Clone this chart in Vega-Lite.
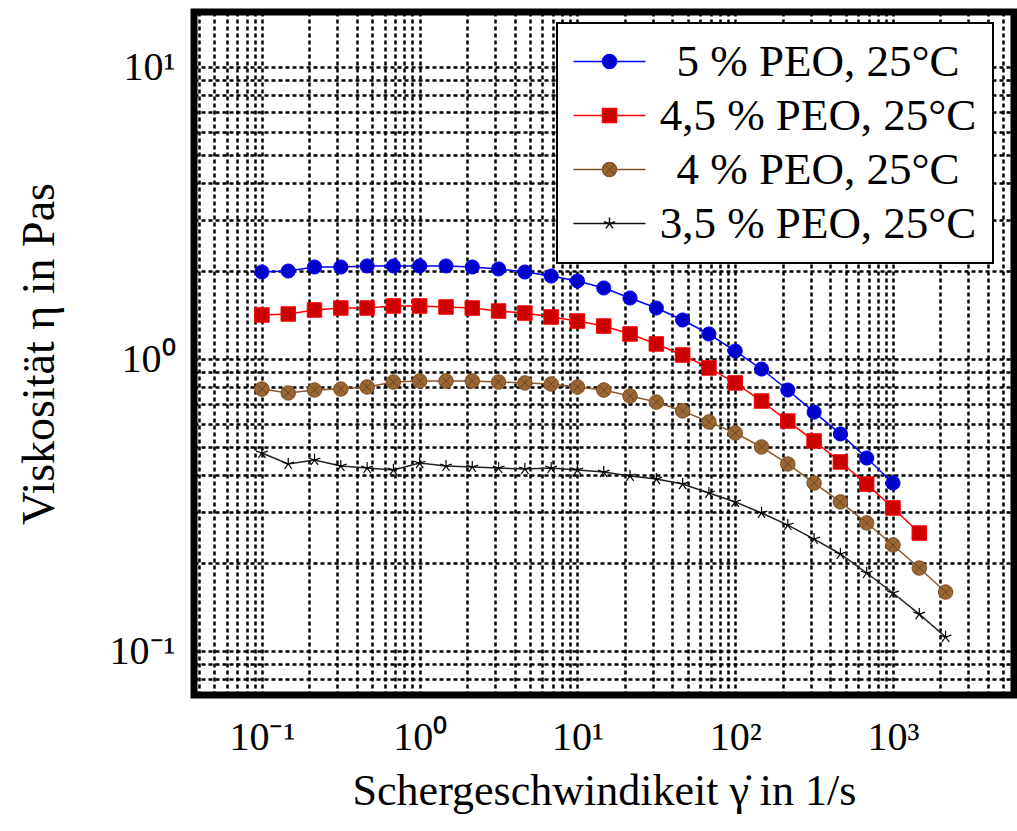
{
  "$schema": "https://vega.github.io/schema/vega-lite/v6.json",
  "width": 820,
  "height": 683,
  "autosize": {"type": "none"},
  "padding": {"left": 194, "top": 12, "right": 3, "bottom": 136},
  "background": "white",
  "config": {
    "view": {"stroke": "black", "strokeWidth": 7},
    "font": "Liberation Serif",
    "axis": {
      "domain": false, "ticks": false, "tickSize": 0,
      "gridColor": "black", "gridDash": [4, 3], "gridWidth": 2.5, "gridOpacity": 1,
      "labelColor": "black", "titleColor": "black",
      "labelFont": "Liberation Serif", "titleFont": "Liberation Serif",
      "titleFontWeight": "normal", "labelOverlap": false, "labelBound": false, "labelFlush": false
    },
    "legend": {
      "orient": "none", "legendX": 363, "legendY": 11, "title": null,
      "padding": 16, "strokeColor": "black", "strokeWidth": 2, "fillColor": "white",
      "labelFont": "Liberation Serif", "labelFontSize": 45, "labelColor": "black", "labelLimit": 500,
      "labelAlign": "center", "labelOffset": 186, "labelBaseline": "middle",
      "symbolSize": 1600, "symbolStrokeWidth": 1.5, "symbolOffset": 14, "rowPadding": 8
    }
  },
  "datasets": {
    "d": [
      {"s":"5 % PEO, 25°C","x":0.1,"y":1.986},{"s":"5 % PEO, 25°C","x":0.1468,"y":2.001},{"s":"5 % PEO, 25°C","x":0.2154,"y":2.066},{"s":"5 % PEO, 25°C","x":0.3162,"y":2.066},{"s":"5 % PEO, 25°C","x":0.4642,"y":2.083},{"s":"5 % PEO, 25°C","x":0.6813,"y":2.083},{"s":"5 % PEO, 25°C","x":1,"y":2.083},{"s":"5 % PEO, 25°C","x":1.468,"y":2.083},{"s":"5 % PEO, 25°C","x":2.154,"y":2.066},{"s":"5 % PEO, 25°C","x":3.162,"y":2.034},{"s":"5 % PEO, 25°C","x":4.642,"y":1.986},{"s":"5 % PEO, 25°C","x":6.813,"y":1.924},{"s":"5 % PEO, 25°C","x":10,"y":1.85},{"s":"5 % PEO, 25°C","x":14.68,"y":1.751},{"s":"5 % PEO, 25°C","x":21.54,"y":1.618},{"s":"5 % PEO, 25°C","x":31.62,"y":1.495},{"s":"5 % PEO, 25°C","x":46.42,"y":1.36},{"s":"5 % PEO, 25°C","x":68.13,"y":1.218},{"s":"5 % PEO, 25°C","x":100,"y":1.065},{"s":"5 % PEO, 25°C","x":146.8,"y":0.924},{"s":"5 % PEO, 25°C","x":215.4,"y":0.783},{"s":"5 % PEO, 25°C","x":316.2,"y":0.658},{"s":"5 % PEO, 25°C","x":464.2,"y":0.554},{"s":"5 % PEO, 25°C","x":681.3,"y":0.458},{"s":"5 % PEO, 25°C","x":1000,"y":0.376},
      {"s":"4,5 % PEO, 25°C","x":0.1,"y":1.415},{"s":"4,5 % PEO, 25°C","x":0.1468,"y":1.426},{"s":"4,5 % PEO, 25°C","x":0.2154,"y":1.472},{"s":"4,5 % PEO, 25°C","x":0.3162,"y":1.495},{"s":"4,5 % PEO, 25°C","x":0.4642,"y":1.495},{"s":"4,5 % PEO, 25°C","x":0.6813,"y":1.519},{"s":"4,5 % PEO, 25°C","x":1,"y":1.519},{"s":"4,5 % PEO, 25°C","x":1.468,"y":1.507},{"s":"4,5 % PEO, 25°C","x":2.154,"y":1.495},{"s":"4,5 % PEO, 25°C","x":3.162,"y":1.46},{"s":"4,5 % PEO, 25°C","x":4.642,"y":1.437},{"s":"4,5 % PEO, 25°C","x":6.813,"y":1.393},{"s":"4,5 % PEO, 25°C","x":10,"y":1.349},{"s":"4,5 % PEO, 25°C","x":14.68,"y":1.297},{"s":"4,5 % PEO, 25°C","x":21.54,"y":1.218},{"s":"4,5 % PEO, 25°C","x":31.62,"y":1.126},{"s":"4,5 % PEO, 25°C","x":46.42,"y":1.032},{"s":"4,5 % PEO, 25°C","x":68.13,"y":0.932},{"s":"4,5 % PEO, 25°C","x":100,"y":0.828},{"s":"4,5 % PEO, 25°C","x":146.8,"y":0.718},{"s":"4,5 % PEO, 25°C","x":215.4,"y":0.613},{"s":"4,5 % PEO, 25°C","x":316.2,"y":0.524},{"s":"4,5 % PEO, 25°C","x":464.2,"y":0.444},{"s":"4,5 % PEO, 25°C","x":681.3,"y":0.373},{"s":"4,5 % PEO, 25°C","x":1000,"y":0.309},{"s":"4,5 % PEO, 25°C","x":1468,"y":0.2535},
      {"s":"4 % PEO, 25°C","x":0.1,"y":0.789},{"s":"4 % PEO, 25°C","x":0.1468,"y":0.765},{"s":"4 % PEO, 25°C","x":0.2154,"y":0.783},{"s":"4 % PEO, 25°C","x":0.3162,"y":0.789},{"s":"4 % PEO, 25°C","x":0.4642,"y":0.802},{"s":"4 % PEO, 25°C","x":0.6813,"y":0.834},{"s":"4 % PEO, 25°C","x":1,"y":0.841},{"s":"4 % PEO, 25°C","x":1.468,"y":0.841},{"s":"4 % PEO, 25°C","x":2.154,"y":0.841},{"s":"4 % PEO, 25°C","x":3.162,"y":0.834},{"s":"4 % PEO, 25°C","x":4.642,"y":0.828},{"s":"4 % PEO, 25°C","x":6.813,"y":0.821},{"s":"4 % PEO, 25°C","x":10,"y":0.802},{"s":"4 % PEO, 25°C","x":14.68,"y":0.783},{"s":"4 % PEO, 25°C","x":21.54,"y":0.747},{"s":"4 % PEO, 25°C","x":31.62,"y":0.712},{"s":"4 % PEO, 25°C","x":46.42,"y":0.664},{"s":"4 % PEO, 25°C","x":68.13,"y":0.609},{"s":"4 % PEO, 25°C","x":100,"y":0.558},{"s":"4 % PEO, 25°C","x":146.8,"y":0.4997},{"s":"4 % PEO, 25°C","x":215.4,"y":0.437},{"s":"4 % PEO, 25°C","x":316.2,"y":0.376},{"s":"4 % PEO, 25°C","x":464.2,"y":0.324},{"s":"4 % PEO, 25°C","x":681.3,"y":0.2745},{"s":"4 % PEO, 25°C","x":1000,"y":0.2307},{"s":"4 % PEO, 25°C","x":1468,"y":0.1924},{"s":"4 % PEO, 25°C","x":2154,"y":0.1592},
      {"s":"3,5 % PEO, 25°C","x":0.1,"y":0.4766},{"s":"3,5 % PEO, 25°C","x":0.1468,"y":0.437},{"s":"3,5 % PEO, 25°C","x":0.2154,"y":0.451},{"s":"3,5 % PEO, 25°C","x":0.3162,"y":0.43},{"s":"3,5 % PEO, 25°C","x":0.4642,"y":0.4233},{"s":"3,5 % PEO, 25°C","x":0.6813,"y":0.417},{"s":"3,5 % PEO, 25°C","x":1,"y":0.44},{"s":"3,5 % PEO, 25°C","x":1.468,"y":0.43},{"s":"3,5 % PEO, 25°C","x":2.154,"y":0.4267},{"s":"3,5 % PEO, 25°C","x":3.162,"y":0.4233},{"s":"3,5 % PEO, 25°C","x":4.642,"y":0.42},{"s":"3,5 % PEO, 25°C","x":6.813,"y":0.4233},{"s":"3,5 % PEO, 25°C","x":10,"y":0.417},{"s":"3,5 % PEO, 25°C","x":14.68,"y":0.41},{"s":"3,5 % PEO, 25°C","x":21.54,"y":0.3977},{"s":"3,5 % PEO, 25°C","x":31.62,"y":0.388},{"s":"3,5 % PEO, 25°C","x":46.42,"y":0.373},{"s":"3,5 % PEO, 25°C","x":68.13,"y":0.3476},{"s":"3,5 % PEO, 25°C","x":100,"y":0.324},{"s":"3,5 % PEO, 25°C","x":146.8,"y":0.297},{"s":"3,5 % PEO, 25°C","x":215.4,"y":0.27},{"s":"3,5 % PEO, 25°C","x":316.2,"y":0.2418},{"s":"3,5 % PEO, 25°C","x":464.2,"y":0.2149},{"s":"3,5 % PEO, 25°C","x":681.3,"y":0.185},{"s":"3,5 % PEO, 25°C","x":1000,"y":0.158},{"s":"3,5 % PEO, 25°C","x":1468,"y":0.1338},{"s":"3,5 % PEO, 25°C","x":2154,"y":0.1117}
    ]
  },
  "data": {"name": "d"},
  "encoding": {
    "x": {
      "field": "x", "type": "quantitative",
      "scale": {"type": "log", "domain": [0.0371, 5848], "nice": false},
      "axis": {
        "values": [0.04,0.05,0.06,0.07,0.08,0.09,0.1,0.2,0.3,0.4,0.5,0.6,0.7,0.8,0.9,1,2,3,4,5,6,7,8,9,10,20,30,40,50,60,70,80,90,100,200,300,400,500,600,700,800,900,1000,2000,3000,4000,5000],
        "labelExpr": "datum.value == 0.1 ? '10⁻¹' : datum.value == 1 ? '10⁰' : datum.value == 10 ? '10¹' : datum.value == 100 ? '10²' : datum.value == 1000 ? '10³' : ''",
        "labelFontSize": 40, "labelPadding": 22,
        "title": "Schergeschwindikeit γ̇ in 1/s", "titleFontSize": 44, "titlePadding": 12
      }
    },
    "y": {
      "field": "y", "type": "quantitative",
      "scale": {"type": "log", "domain": [0.07069, 15.43], "nice": false},
      "axis": {
        "values": [0.08,0.09,0.1,0.2,0.3,0.4,0.5,0.6,0.7,0.8,0.9,1,2,3,4,5,6,7,8,9,10],
        "labelExpr": "datum.value == 0.1 ? '10⁻¹' : datum.value == 1 ? '10⁰' : datum.value == 10 ? '10¹' : ''",
        "labelFontSize": 40, "labelPadding": 19,
        "title": "Viskosität η in Pas", "titleFontSize": 46, "titlePadding": 46
      }
    }
  },
  "layer": [
    {
      "mark": {"type": "point", "filled": false, "opacity": 1, "strokeWidth": 1.5, "size": 4},
      "encoding": {
        "shape": {
          "field": "s", "type": "nominal",
          "scale": {
            "domain": ["5 % PEO, 25°C","4,5 % PEO, 25°C","4 % PEO, 25°C","3,5 % PEO, 25°C"],
            "range": [
              "M-1.8,0L-0.35,0M0.35,0L1.8,0M0.35,0A0.35,0.35 0 1 1 -0.35,0A0.35,0.35 0 1 1 0.35,0Z",
              "M-1.8,0L-0.35,0M0.35,0L1.8,0M-0.35,-0.35L0.35,-0.35L0.35,0.35L-0.35,0.35Z",
              "M-1.8,0L-0.35,0M0.35,0L1.8,0M0.35,0A0.35,0.35 0 1 1 -0.35,0A0.35,0.35 0 1 1 0.35,0ZM-0.22,-0.22L0.22,0.22M-0.22,0.22L0.22,-0.22",
              "M-1.8,0L1.8,0M0,0L0,-0.3M0,0L0.285,-0.093M0,0L0.176,0.243M0,0L-0.176,0.243M0,0L-0.285,-0.093"
            ]
          }
        },
        "fill": {
          "field": "s", "type": "nominal",
          "scale": {"domain": ["5 % PEO, 25°C","4,5 % PEO, 25°C","4 % PEO, 25°C","3,5 % PEO, 25°C"], "range": ["#0000cc","#cc0000","#9a6634","transparent"]}
        },
        "stroke": {
          "field": "s", "type": "nominal",
          "scale": {"domain": ["5 % PEO, 25°C","4,5 % PEO, 25°C","4 % PEO, 25°C","3,5 % PEO, 25°C"], "range": ["#0000ff","#ff0000","#7f5024","#111111"]}
        }
      }
    },
    {
      "transform": [{"filter": {"field": "s", "equal": "5 % PEO, 25°C"}}],
      "mark": {"type": "line", "strokeWidth": 1.5, "color": "#0000ff"}
    },
    {
      "transform": [{"filter": {"field": "s", "equal": "4,5 % PEO, 25°C"}}],
      "mark": {"type": "line", "strokeWidth": 1.5, "color": "#ff0000"}
    },
    {
      "transform": [{"filter": {"field": "s", "equal": "4 % PEO, 25°C"}}],
      "mark": {"type": "line", "strokeWidth": 1.5, "color": "#8a5a2c"}
    },
    {
      "transform": [{"filter": {"field": "s", "equal": "3,5 % PEO, 25°C"}}],
      "mark": {"type": "line", "strokeWidth": 1.5, "color": "#222222"}
    },
    {
      "transform": [{"filter": {"field": "s", "equal": "5 % PEO, 25°C"}}],
      "mark": {"type": "point", "shape": "circle", "filled": true, "fill": "#0000cc", "stroke": "#0000ff", "strokeWidth": 1, "size": 200, "opacity": 1}
    },
    {
      "transform": [{"filter": {"field": "s", "equal": "4,5 % PEO, 25°C"}}],
      "mark": {"type": "point", "shape": "square", "filled": true, "fill": "#cc0000", "stroke": "#ff0000", "strokeWidth": 1, "size": 210, "opacity": 1}
    },
    {
      "transform": [{"filter": {"field": "s", "equal": "4 % PEO, 25°C"}}],
      "mark": {"type": "point", "shape": "circle", "filled": true, "fill": "#9a6634", "stroke": "#7f4f22", "strokeWidth": 1, "size": 210, "opacity": 1}
    },
    {
      "transform": [{"filter": {"field": "s", "equal": "4 % PEO, 25°C"}}],
      "mark": {"type": "point", "shape": "M-0.6,-0.6L0.6,0.6M-0.6,0.6L0.6,-0.6", "filled": false, "stroke": "#6b4420", "strokeWidth": 1, "size": 210, "opacity": 1}
    },
    {
      "transform": [{"filter": {"field": "s", "equal": "3,5 % PEO, 25°C"}}],
      "mark": {"type": "point", "shape": "M0,0L0,-1M0,0L0.951,-0.309M0,0L0.588,0.809M0,0L-0.588,0.809M0,0L-0.951,-0.309", "filled": false, "stroke": "#000000", "strokeWidth": 1.2, "size": 150, "opacity": 1}
    }
  ]
}
